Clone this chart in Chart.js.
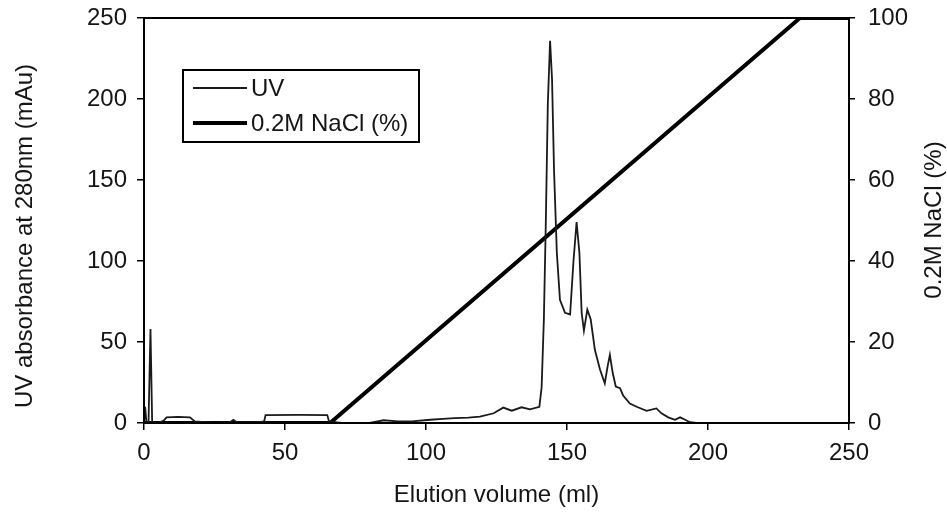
<!DOCTYPE html>
<html>
<head>
<meta charset="utf-8">
<script src="https://cdn.jsdelivr.net/npm/chart.js@4"></script>
<style>
    html, body { margin: 0; padding: 0; background: #fff; }
    #wrap { width: 947px; height: 512px; }
</style>
</head>
<body>
<div id="wrap"><canvas id="elution-chart" width="947" height="512"></canvas></div>
<script>
// UV trace (ml, mAu)
const uv_volume = [0, 0.4, 0.9, 1.6, 2.3, 2.9, 5, 7, 8, 12, 16.3, 18, 25, 30.5, 31.7, 33, 40, 42.6, 43.1, 55, 65, 65.6, 70, 80, 85, 90, 95, 101.5, 106, 110, 115, 119.1, 124, 127.4, 130.4, 133.9, 136.9, 140.2, 141, 141.8, 142.5, 143.2, 144, 144.7, 145.4, 146.4, 147.5, 149.3, 151.1, 152.3, 153.4, 154.4, 155.2, 156, 157.2, 158.4, 159.9, 161.7, 163.4, 164.4, 165.2, 166.2, 167.3, 168.8, 169.9, 172.3, 174.7, 178.2, 181.7, 183.5, 185.9, 188.3, 190.1, 191.9, 193.6, 196, 250];
const uv_absorbance = [0, 10, 0, 0, 58, 0, 0, 1.5, 3.5, 3.8, 3.5, 1, 0, 0.5, 2, 0.3, 0.3, 1, 4.9, 5, 4.9, 1, 0, 0, 1.7, 1, 1, 2, 2.5, 3, 3.3, 3.9, 6, 9.5, 7.6, 9.7, 8.4, 10, 22, 64, 125, 197, 236, 212, 156, 105, 76, 68, 67, 100, 124, 105, 68, 57, 70, 64, 45, 33, 24.5, 35, 42, 31, 22.5, 21.5, 17, 12, 10, 7.5, 9, 6, 3.5, 2, 3.5, 2, 0.5, 0, 0];

// salt gradient (ml, %)
const nacl_volume = [0, 66, 232.6, 250];
const nacl_percent = [0, 0, 100, 100];

const x_min = 0, x_max = 250, x_step = 50;
const uv_min = 0, uv_max = 250, uv_step = 50;
const nacl_min = 0, nacl_max = 100, nacl_step = 20;

const series_labels = ["UV", "0.2M NaCl (%)"];
const axis_titles = {
    x: "Elution volume (ml)",
    y: "UV absorbance at 280nm (mAu)",
    y2: "0.2M NaCl (%)"
};

const font_family = "'Liberation Sans', Arial, sans-serif";
const ink = "#151515";

const to_points = (xs, ys) => xs.map((x, i) => ({x: x, y: ys[i]}));

// plot frame, y titles and the boxed legend
const decorations = {
    id: "decorations",
    afterDatasetsDraw(chart) {
        const {ctx, chartArea} = chart;
        ctx.save();
        ctx.strokeStyle = "#000";
        ctx.lineWidth = 2;
        ctx.strokeRect(chartArea.left, chartArea.top, chartArea.right - chartArea.left, chartArea.bottom - chartArea.top);
        ctx.restore();
    },
    afterDraw(chart) {
        const ctx = chart.ctx;
        ctx.save();
        ctx.fillStyle = ink;
        ctx.font = "24px " + font_family;
        ctx.textAlign = "center";
        ctx.textBaseline = "middle";

        // both y titles read bottom to top
        ctx.save();
        ctx.translate(25, 236);
        ctx.rotate(-Math.PI / 2);
        ctx.fillText(axis_titles.y, 0, 0);
        ctx.restore();

        ctx.save();
        ctx.translate(934, 220);
        ctx.rotate(-Math.PI / 2);
        ctx.fillText(axis_titles.y2, 0, 0);
        ctx.restore();

        // legend box
        ctx.fillStyle = "#fff";
        ctx.fillRect(183, 70, 236, 72);
        ctx.strokeStyle = "#000";
        ctx.lineWidth = 2;
        ctx.strokeRect(183, 70, 236, 72);

        const rows = [88, 123];
        chart.data.datasets.forEach((ds, i) => {
            ctx.beginPath();
            ctx.strokeStyle = ds.borderColor;
            ctx.lineWidth = ds.borderWidth;
            ctx.moveTo(193, rows[i]);
            ctx.lineTo(247, rows[i]);
            ctx.stroke();
            ctx.fillStyle = ink;
            ctx.textAlign = "left";
            ctx.fillText(ds.label, 251, rows[i] + 1);
        });
        ctx.restore();
    }
};

const tick_font = {family: font_family, size: 24};

const fit_vertical = (width) => (scale) => {
    scale.width = width;
    scale.paddingTop = 0;
    scale.paddingBottom = 0;
};

const ctx = document.getElementById("elution-chart").getContext("2d");

const elutionChart = new Chart(ctx, {
    type: "line",
    data: {
        datasets: [
            {
                label: series_labels[0],
                data: to_points(uv_volume, uv_absorbance),
                yAxisID: "y",
                borderColor: "#1a1a1a",
                borderWidth: 1.8,
                pointRadius: 0,
                tension: 0,
                fill: false,
            },
            {
                label: series_labels[1],
                data: to_points(nacl_volume, nacl_percent),
                yAxisID: "y2",
                borderColor: "#000",
                borderWidth: 4,
                pointRadius: 0,
                tension: 0,
                fill: false,
            }
        ]
    },
    options: {
        responsive: false,
        animation: false,
        layout: {
            padding: {top: 18, left: 0, right: 0, bottom: 0}
        },
        plugins: {
            legend: {display: false},
            tooltip: {enabled: false}
        },
        scales: {
            x: {
                type: "linear",
                min: x_min,
                max: x_max,
                ticks: {stepSize: x_step, color: ink, font: tick_font, padding: 9, maxRotation: 0},
                grid: {drawOnChartArea: false, tickLength: 7, color: "#000", lineWidth: 1.5},
                border: {color: "#000", width: 2},
                title: {
                    display: true,
                    text: axis_titles.x,
                    color: ink,
                    font: {family: font_family, size: 24},
                    padding: {top: 0, bottom: 2}
                },
                afterFit: (scale) => { scale.height = 89; }
            },
            y: {
                position: "left",
                min: uv_min,
                max: uv_max,
                ticks: {stepSize: uv_step, color: ink, font: tick_font, padding: 10},
                grid: {drawOnChartArea: false, tickLength: 7, color: "#000", lineWidth: 1.5},
                border: {color: "#000", width: 2},
                afterFit: fit_vertical(144)
            },
            y2: {
                position: "right",
                min: nacl_min,
                max: nacl_max,
                ticks: {stepSize: nacl_step, color: ink, font: tick_font, padding: 13},
                grid: {drawOnChartArea: false, tickLength: 6, color: "#000", lineWidth: 1.5},
                border: {color: "#000", width: 2},
                afterFit: fit_vertical(98)
            }
        }
    },
    plugins: [decorations]
});
</script>
</body>
</html>
